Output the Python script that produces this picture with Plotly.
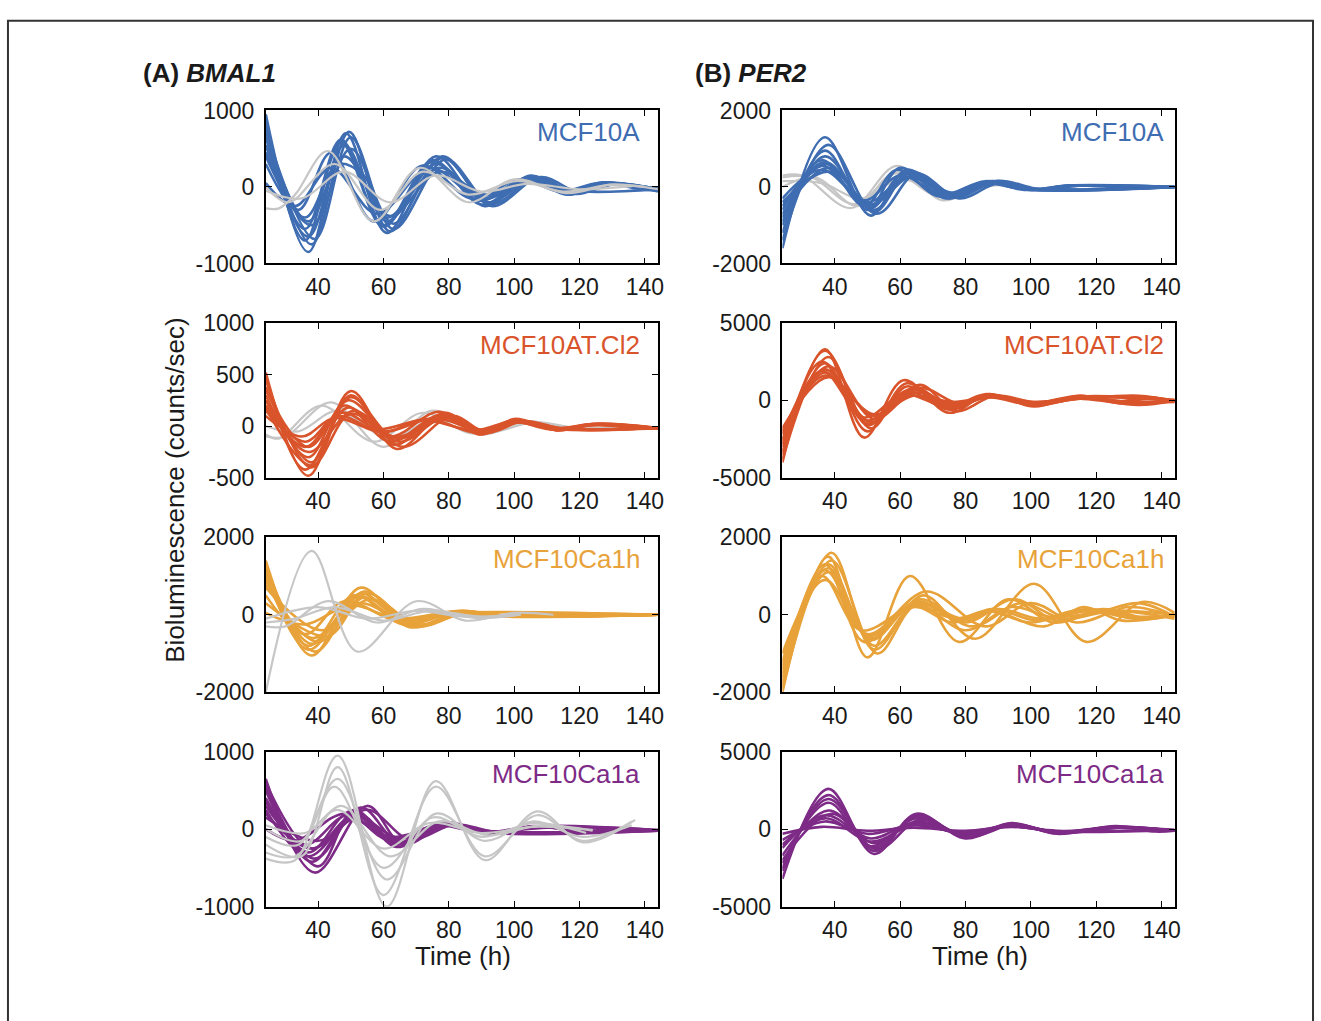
import plotly.graph_objects as go

# ---------------- data: (time h, bioluminescence) key points read per trace ----------------
TICKS_X = [40, 60, 80, 100, 120, 140]

BMAL1_MCF10A = [
    [(24,950),(37,-850),(48.5,700),(61,-600),(76,400),(91,-250),(105,150),(117,-100),(128,60),(137,-20),(144,-50)],
    [(24,800),(38,-750),(49.5,720),(62,-580),(78,400),(92,-200),(106,120),(118,-80),(129,50),(144,-30)],
    [(24,650),(36,-550),(47,620),(60,-500),(75,350),(89,-180),(104,100),(116,-60),(127,60),(144,-40)],
    [(24,300),(34,-300),(44,450),(57,-450),(72,280),(87,-150),(102,100),(114,-60),(126,50),(144,-30)],
    [(24,750),(39,-680),(50,650),(63,-550),(79,360),(93,-220),(107,130),(119,-90),(130,40),(144,-50)],
    [(24,50),(33,-250),(44,250),(58,-350),(74,250),(89,-120),(104,80),(118,-60),(130,30),(144,-20)],
    [(24,450),(36,-400),(46,300),(54,150),(61,-400),(77,250),(91,-150),(105,100),(117,-80),(128,40),(144,-40)],
    [(24,550),(37,-650),(48,550),(61,-450),(76,300),(90,-150),(104,120),(116,-100),(127,50),(144,-60)],
    [(24,900),(36,-700),(47,580),(60,-520),(75,330),(90,-230),(105,140),(117,-90),(128,50),(144,-40)],
    [(24,400),(38,-500),(50,500),(63,-480),(78,380),(93,-250),(108,130),(120,-70),(131,40),(144,-30)],
    [(24,700),(37,-450),(48,400),(62,-380),(77,200),(91,-100),(106,90),(118,-50),(144,-30)],
]
BMAL1_MCF10A_GRAY = [
    [(24,-280),(28,-280),(33,-100),(43,470),(57,-450),(71,250),(86,-200),(100,100),(116,-80),(130,30),(144,-30)],
    [(24,0),(31,-200),(45,300),(59,-300),(72,200),(86,-100),(101,80),(115,-60),(130,30),(140,0)],
    [(24,-50),(35,-150),(48,200),(62,-200),(76,150),(90,-60),(104,40),(120,-30),(136,10)],
]

BMAL1_MCF10AT = [
    [(24,520),(37,-480),(50,340),(64,-220),(79,130),(89,-80),(100,60),(112,-30),(124,20),(134,-10),(144,-20)],
    [(24,450),(38,-400),(50,300),(63,-180),(78,120),(89,-60),(99,50),(111,-30),(124,20),(144,-20)],
    [(24,300),(37,-300),(48,200),(62,-150),(77,100),(90,-70),(101,60),(113,-40),(125,20),(144,-15)],
    [(24,200),(36,-200),(47,130),(60,-50),(76,80),(90,-50),(101,40),(113,-30),(126,20),(144,-20)],
    [(24,150),(36,-150),(46,100),(58,-30),(74,70),(88,-60),(99,40),(112,-20),(125,10),(144,-20)],
    [(24,380),(38,-350),(49,250),(64,-120),(80,100),(91,-70),(101,50),(113,-40),(124,10),(144,-20)],
    [(24,100),(35,-100),(45,80),(60,-60),(72,60),(88,-40),(100,50),(112,-20),(144,-15)],
    [(24,250),(37,-250),(51,150),(66,-200),(81,100),(91,-50),(102,40),(114,-30),(144,-20)],
    [(24,480),(36,-420),(49,180),(62,-100),(77,140),(90,-80),(100,70),(112,-30),(126,25),(144,-20)],
    [(24,180),(38,-380),(50,120),(65,-150),(79,90),(92,-60),(103,50),(116,-30),(144,-15)],
    [(24,350),(37,-200),(50,280),(63,-100),(78,60),(91,-40),(102,40),(115,-20),(144,-20)],
]
BMAL1_MCF10AT_GRAY = [
    [(24,-100),(30,-100),(44,230),(60,-200),(75,150),(90,-80),(104,50),(118,-30),(140,0)],
    [(24,-80),(28,-120),(41,200),(57,-150),(72,130),(87,-70),(101,40),(116,-20),(140,0)],
    [(24,0),(34,-50),(46,150),(62,-120),(77,100),(92,-60),(106,40),(120,-20),(138,0)],
]

BMAL1_MCF10CA1H = [
    [(24,1400),(38,-1050),(53,700),(68,-320),(84,80),(96,-30),(108,30),(120,-20),(144,0)],
    [(24,1200),(39,-950),(54,600),(69,-280),(84,100),(96,-50),(110,40),(124,-20),(144,0)],
    [(24,1000),(37,-800),(51,500),(66,-250),(82,60),(95,-40),(108,30),(144,0)],
    [(24,800),(40,-700),(55,550),(70,-300),(85,50),(98,-40),(144,0)],
    [(24,500),(36,-500),(48,350),(64,-150),(80,80),(95,-30),(144,0)],
    [(24,300),(43,-550),(54,450),(67,-200),(82,80),(98,-40),(144,0)],
    [(24,1100),(37,-900),(52,450),(66,-200),(80,50),(95,-30),(144,0)],
    [(24,50),(36,-250),(50,250),(64,-100),(80,50),(144,0)],
    [(24,900),(38,-600),(52,300),(67,-150),(83,100),(97,-20),(144,0)],
    [(24,700),(41,-400),(56,400),(71,-250),(86,70),(100,-30),(144,0)],
    [(24,1250),(38,-750),(53,550),(67,-220),(82,90),(96,-40),(144,0)],
]
BMAL1_MCF10CA1H_GRAY = [
    [(24,-2000),(38,1650),(52,-950),(70,350),(85,-150),(100,50),(112,0)],
    [(24,-300),(30,-300),(43,350),(58,-200),(72,150),(88,-80),(102,0)],
    [(24,-200),(33,-100),(45,200),(60,-150),(74,100),(90,-50),(102,0)],
    [(24,-100),(40,200),(55,-100),(70,100),(85,-50),(100,0)],
]

BMAL1_MCF10CA1A = [
    [(24,650),(39,-560),(55,300),(66,-200),(80,80),(92,-60),(106,40),(120,-30),(132,10),(144,-20)],
    [(24,550),(40,-480),(51,250),(64,-230),(78,80),(92,-60),(107,30),(120,-20),(144,-20)],
    [(24,400),(37,-300),(50,230),(63,-180),(78,60),(92,-50),(106,30),(144,-20)],
    [(24,300),(36,-200),(49,180),(62,-150),(76,50),(90,-40),(105,20),(144,-20)],
    [(24,200),(38,-250),(52,150),(65,-120),(79,70),(93,-40),(108,30),(144,-10)],
    [(24,0),(33,-150),(48,200),(62,-100),(78,50),(92,-30),(144,-10)],
    [(24,250),(37,-350),(52,200),(64,-170),(80,60),(94,-50),(144,-20)],
    [(24,150),(40,-150),(55,250),(68,-130),(82,60),(95,-40),(144,-20)],
    [(24,500),(38,-420),(50,120),(63,-120),(79,90),(93,-50),(108,40),(144,-15)],
    [(24,350),(39,-380),(53,280),(65,-180),(80,50),(94,-30),(110,20),(144,-20)],
    [(24,600),(38,-250),(51,180),(64,-200),(79,70),(93,-50),(108,30),(144,-20)],
]
BMAL1_MCF10CA1A_GRAY = [
    [(24,-380),(33,-400),(46,950),(61,-1000),(76,620),(91,-400),(107,230),(121,-170),(137,120)],
    [(24,-200),(35,-350),(46,800),(60,-850),(76,550),(91,-350),(107,180),(121,-150),(136,100)],
    [(24,-100),(34,-200),(46,650),(61,-650),(76,200),(91,-150),(106,100),(121,-100),(136,50)],
    [(24,0),(35,-150),(45,550),(60,-500),(75,150),(90,-100),(106,80),(122,-50)],
    [(24,-300),(33,-350),(47,300),(62,-350),(77,100),(92,-80),(108,50),(124,-20)],
    [(24,50),(36,-50),(46,250),(60,-250),(74,80),(90,-50),(106,30),(124,-10)],
]

PER2_MCF10A = [
    [(24,-1600),(37,1300),(51,-750),(62,450),(75,-300),(87,150),(100,-80),(112,40),(130,-20),(144,0)],
    [(24,-1400),(38,1100),(52,-650),(63,400),(76,-250),(88,150),(100,-60),(112,40),(144,0)],
    [(24,-1200),(37,950),(50,-600),(60,500),(74,-300),(86,120),(98,-80),(112,30),(144,0)],
    [(24,-800),(36,700),(49,-500),(59,450),(72,-250),(85,100),(98,-50),(144,0)],
    [(24,-500),(37,600),(51,-450),(64,300),(77,-200),(89,150),(101,-50),(144,0)],
    [(24,-300),(36,450),(50,-400),(62,250),(76,-150),(88,100),(100,-50),(144,0)],
    [(24,-700),(38,500),(53,-700),(65,350),(78,-300),(90,100),(102,-80),(144,0)],
    [(24,-1000),(37,800),(51,-550),(61,350),(75,-200),(87,120),(99,-70),(144,0)],
    [(24,-600),(37,650),(52,-600),(63,420),(76,-280),(89,130),(101,-60),(114,30),(144,0)],
    [(24,-900),(36,550),(49,-350),(60,300),(73,-200),(86,150),(99,-60),(144,0)],
    [(24,-400),(38,400),(50,-500),(64,380),(77,-250),(90,160),(103,-60),(116,40),(144,0)],
]
PER2_MCF10A_GRAY = [
    [(24,300),(30,300),(45,-550),(59,550),(73,-350),(86,100),(98,0)],
    [(24,250),(33,250),(46,-450),(60,400),(74,-300),(88,80),(98,0)],
    [(24,0),(34,250),(47,-500),(58,350),(72,-250),(86,80),(96,0)],
    [(24,150),(36,100),(48,-300),(60,200),(75,-150),(90,50),(100,0)],
]

PER2_MCF10AT = [
    [(24,-4000),(37,3300),(49,-2400),(61,1300),(75,-800),(87,400),(101,-400),(115,300),(128,-200),(136,200),(144,-100)],
    [(24,-3500),(37,3200),(51,-1800),(62,900),(75,-600),(87,300),(100,-200),(115,300),(128,-100),(135,100),(144,0)],
    [(24,-3000),(36,2500),(50,-1500),(64,800),(76,-400),(88,300),(102,-300),(116,200),(130,-100),(144,0)],
    [(24,-2500),(38,2200),(52,-1200),(66,800),(78,-200),(88,300),(102,-150),(116,200),(130,-200),(144,0)],
    [(24,-2000),(37,1600),(52,-900),(64,300),(76,-100),(88,200),(100,-100),(116,100),(133,-300),(144,0)],
    [(24,-3800),(38,2800),(50,-1600),(62,600),(74,-500),(86,400),(100,-200),(114,200),(128,-100),(144,-100)],
    [(24,-2200),(36,1900),(49,-1100),(61,400),(73,-300),(87,200),(101,-300),(116,150),(128,-50),(134,200),(144,0)],
    [(24,-2800),(37,2000),(51,-1400),(66,1000),(77,-700),(89,300),(101,-100),(114,100),(133,300),(144,-50)],
    [(24,-3300),(37,2400),(50,-2000),(62,1100),(75,-500),(88,350),(101,-250),(116,250),(132,-250),(144,50)],
    [(24,-1800),(38,1500),(52,-1000),(65,500),(77,-300),(88,250),(102,-200),(117,150),(133,150),(144,0)],
    [(24,-2600),(37,1800),(50,-1300),(63,700),(76,-400),(87,300),(101,-300),(115,250),(131,200),(144,-50)],
]

PER2_MCF10CA1H = [
    [(24,-2000),(38,1500),(50,-1100),(63,1000),(78,-700),(93,400),(107,-200),(122,100),(134,-100),(144,0)],
    [(24,-1800),(39,1600),(52,-900),(67,500),(83,-620),(101,800),(117,-700),(134,330),(144,50)],
    [(24,-1500),(37,1300),(49,-700),(65,300),(80,-200),(95,400),(108,-150),(122,150),(136,-100),(144,0)],
    [(24,-1200),(38,1200),(51,-600),(66,400),(82,-300),(97,300),(110,-100),(125,100),(144,0)],
    [(24,-1000),(37,900),(50,-500),(68,600),(86,-300),(100,300),(114,-200),(130,200),(144,-50)],
    [(24,-1600),(38,1100),(52,-800),(64,200),(76,-200),(88,150),(102,-150),(118,100),(132,-100),(144,0)],
    [(24,-1300),(36,1000),(48,-400),(66,300),(79,-100),(88,100),(104,-300),(116,200),(128,-150),(144,0)],
    [(24,-1900),(39,1400),(53,-1000),(65,250),(80,-400),(94,200),(106,-50),(120,50),(133,300),(144,-50)],
    [(24,-1700),(38,1300),(51,-650),(65,350),(79,-150),(90,150),(103,-100),(117,150),(132,-50),(144,0)],
    [(24,-1400),(37,1150),(50,-550),(64,200),(77,-100),(87,100),(100,-200),(113,100),(128,100),(144,-100)],
]

PER2_MCF10CA1A = [
    [(24,-3200),(38,2600),(52,-1600),(65,1000),(80,-600),(94,400),(108,-300),(126,200),(138,-150),(144,-100)],
    [(24,-2700),(38,2200),(52,-1400),(65,900),(80,-500),(93,350),(108,-250),(126,150),(144,-100)],
    [(24,-2200),(38,1700),(51,-1100),(65,700),(80,-400),(94,300),(108,-200),(125,150),(144,-100)],
    [(24,-1700),(38,1200),(52,-900),(65,500),(80,-400),(94,250),(109,-200),(126,100),(144,-100)],
    [(24,-1200),(37,900),(51,-600),(64,400),(79,-300),(93,200),(108,-150),(126,100),(144,-50)],
    [(24,-700),(37,500),(50,-300),(64,250),(79,-200),(93,200),(108,-150),(144,-50)],
    [(24,-300),(36,150),(50,-100),(64,100),(80,-100),(94,150),(108,-100),(144,-50)],
    [(24,-2000),(39,1000),(53,-1300),(66,600),(81,-500),(95,300),(109,-250),(127,100),(144,-100)],
    [(24,-2500),(38,1950),(52,-1200),(65,800),(80,-450),(94,350),(108,-250),(126,150),(144,-100)],
    [(24,-1000),(37,700),(51,-800),(65,300),(80,-300),(94,280),(108,-180),(126,80),(144,-80)],
]

CELL_LINES = ["MCF10A", "MCF10AT.Cl2", "MCF10Ca1h", "MCF10Ca1a"]
COLORS = ["#3f6db2", "#d9542b", "#e8a23a", "#7d2b86"]
GRAY = "#c6c6c6"

Y_RANGES_A = [(-1000, 1000), (-500, 1000), (-2000, 2000), (-1000, 1000)]
Y_TICKS_A = [[-1000, 0, 1000], [-500, 0, 500, 1000], [-2000, 0, 2000], [-1000, 0, 1000]]
Y_RANGES_B = [(-2000, 2000), (-5000, 5000), (-2000, 2000), (-5000, 5000)]
Y_TICKS_B = [[-2000, 0, 2000], [-5000, 0, 5000], [-2000, 0, 2000], [-5000, 0, 5000]]

BMAL1_SETS = [(BMAL1_MCF10A, BMAL1_MCF10A_GRAY), (BMAL1_MCF10AT, BMAL1_MCF10AT_GRAY),
              (BMAL1_MCF10CA1H, BMAL1_MCF10CA1H_GRAY), (BMAL1_MCF10CA1A, BMAL1_MCF10CA1A_GRAY)]
PER2_SETS = [(PER2_MCF10A, PER2_MCF10A_GRAY), (PER2_MCF10AT, []),
             (PER2_MCF10CA1H, []), (PER2_MCF10CA1A, [])]
GRAY_ON_TOP = [[True, False, True, True], [False, False, False, False]]

# ---------------- layout geometry ----------------
W, H = 1321, 1021
COL_X = [(267, 661), (786, 1180)]
ROW_Y = [(100, 257), (318, 477), (538, 697), (758, 917)]
FONT = "Liberation Sans, Arial, Helvetica, sans-serif"
TXT = "#1a1a1a"

fig = go.Figure()
layout = dict(width=W, height=H, margin=dict(l=0, r=0, t=0, b=0),
              paper_bgcolor="white", plot_bgcolor="white", showlegend=False,
              font=dict(family=FONT, color=TXT))
annotations = []


def add_lines(traces, color, width, xa, ya):
    for tr in traces:
        fig.add_trace(go.Scatter(x=[p[0] for p in tr], y=[p[1] for p in tr], mode="lines",
                                 line=dict(color=color, width=width, shape="spline", smoothing=1.0),
                                 xaxis=xa, yaxis=ya, hoverinfo="skip"))


idx = 0
for col in range(2):
    sets = BMAL1_SETS if col == 0 else PER2_SETS
    yr = Y_RANGES_A if col == 0 else Y_RANGES_B
    yt = Y_TICKS_A if col == 0 else Y_TICKS_B
    for row in range(4):
        idx += 1
        xa = "x" if idx == 1 else f"x{idx}"
        ya = "y" if idx == 1 else f"y{idx}"
        colored, gray = sets[row]
        if GRAY_ON_TOP[col][row]:
            add_lines(colored, COLORS[row], 2.6, xa, ya)
            add_lines(gray, GRAY, 2.2, xa, ya)
        else:
            add_lines(gray, GRAY, 2.2, xa, ya)
            add_lines(colored, COLORS[row], 2.6, xa, ya)
        x0, x1 = COL_X[col]
        y0, y1 = ROW_Y[row]
        axcommon = dict(showline=True, linecolor="black", linewidth=1.6, mirror="ticks",
                        ticks="inside", ticklen=6, tickwidth=1.3, tickcolor="black",
                        showgrid=False, zeroline=False,
                        tickfont=dict(size=23, family=FONT, color=TXT))
        layout["xaxis" + ("" if idx == 1 else str(idx))] = dict(
            domain=[x0 / W, x1 / W], anchor=ya, range=[24, 144],
            tickvals=TICKS_X, ticktext=[str(v) for v in TICKS_X], ticklabelstandoff=2, **axcommon)
        layout["yaxis" + ("" if idx == 1 else str(idx))] = dict(
            domain=[1 - y1 / H, 1 - y0 / H], anchor=xa, range=list(yr[row]),
            tickvals=yt[row], ticktext=[str(v) for v in yt[row]], ticklabelstandoff=5, **axcommon)
        annotations.append(dict(text=CELL_LINES[row], xref=f"{xa} domain", yref=f"{ya} domain",
                                x=0.96 if col == 0 else 0.977, y=1, xanchor="right", yanchor="top",
                                yshift=-5, showarrow=False,
                                font=dict(size=26, color=COLORS[row], family=FONT)))

annotations += [
    dict(text="<b>(A) <i>BMAL1</i></b>", xref="paper", yref="paper", x=142 / W, y=1 - 62 / H,
         xanchor="left", yanchor="middle", showarrow=False, font=dict(size=26, color=TXT)),
    dict(text="<b>(B) <i>PER2</i></b>", xref="paper", yref="paper", x=696 / W, y=1 - 62 / H,
         xanchor="left", yanchor="middle", showarrow=False, font=dict(size=26, color=TXT)),
    dict(text="Bioluminescence (counts/sec)", xref="paper", yref="paper", x=175 / W, y=1 - 490 / H,
         xanchor="center", yanchor="middle", textangle=-90, showarrow=False,
         font=dict(size=26, color=TXT)),
    dict(text="Time (h)", xref="paper", yref="paper", x=465 / W, y=1 - 968 / H,
         xanchor="center", yanchor="middle", showarrow=False, font=dict(size=26, color=TXT)),
    dict(text="Time (h)", xref="paper", yref="paper", x=984 / W, y=1 - 968 / H,
         xanchor="center", yanchor="middle", showarrow=False, font=dict(size=26, color=TXT)),
]
layout["annotations"] = annotations
layout["shapes"] = [dict(type="rect", xref="paper", yref="paper", x0=8 / W, x1=1319 / W,
                         y0=-0.05, y1=1 - 8 / H, line=dict(color="#333333", width=2),
                         fillcolor="rgba(0,0,0,0)", layer="above")]
fig.update_layout(**layout)
fig.write_html("out.html")
